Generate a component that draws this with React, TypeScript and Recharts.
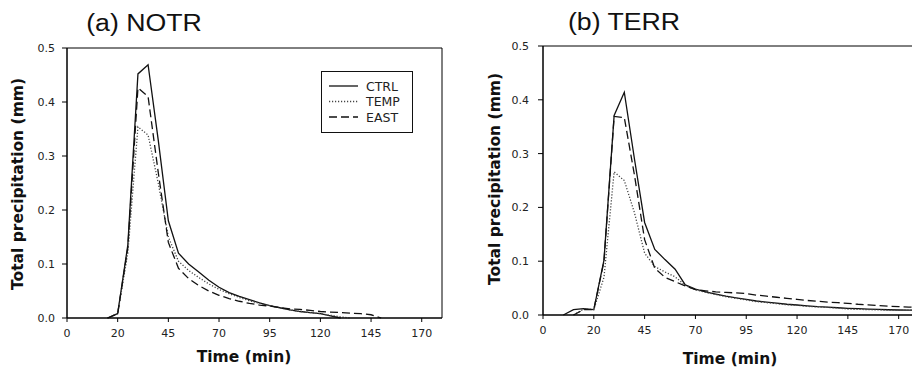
import { LineChart, Line, XAxis, YAxis, ReferenceArea, Legend } from 'recharts'

// time axis (min); the first tick sits at -5 but is labelled "0" in the original figure
const X_TICK_VALUES = [-5, 20, 45, 70, 95, 120, 145, 170]
const X_TICK_LABELS = ['0', '20', '45', '70', '95', '120', '145', '170']
const Y_TICKS = [0, 0.1, 0.2, 0.3, 0.4, 0.5]

// (a) NOTR
const TIME_A = [15, 20, 25, 30, 35, 40, 45, 50, 55, 60, 65, 70, 75, 80, 85, 90, 95, 100, 105, 110, 115, 120, 125, 130, 135, 140, 145, 150]
const CTRL_A = [0, 0.008, 0.135, 0.452, 0.469, 0.33, 0.18, 0.12, 0.1, 0.085, 0.07, 0.057, 0.047, 0.04, 0.034, 0.028, 0.023, 0.019, 0.015, 0.012, 0.01, 0.008, 0.004, 0, null, null, null, null]
const TEMP_A = [0, 0.008, 0.12, 0.354, 0.339, 0.25, 0.15, 0.105, 0.088, 0.075, 0.063, 0.053, 0.045, 0.038, 0.032, 0.027, 0.023, 0.019, 0.015, 0.012, 0.01, 0.008, 0.005, 0.002, 0, null, null, null]
const EAST_A = [0, 0.008, 0.13, 0.426, 0.41, 0.27, 0.14, 0.092, 0.073, 0.06, 0.05, 0.042, 0.036, 0.031, 0.027, 0.024, 0.022, 0.019, 0.017, 0.016, 0.014, 0.012, 0.011, 0.01, 0.009, 0.008, 0.006, 0]

// (b) TERR
const TIME_B = [5, 10, 15, 20, 25, 30, 35, 40, 45, 50, 55, 60, 65, 70, 75, 80, 85, 90, 95, 100, 105, 110, 115, 120, 125, 130, 135, 140, 145, 150, 155, 160, 165, 170, 175, 180]
const CTRL_B = [0, 0.01, 0.012, 0.01, 0.102, 0.371, 0.414, 0.29, 0.172, 0.122, 0.103, 0.085, 0.056, 0.048, 0.043, 0.039, 0.035, 0.032, 0.029, 0.026, 0.024, 0.022, 0.02, 0.0186, 0.017, 0.0155, 0.0145, 0.0135, 0.0124, 0.0117, 0.011, 0.0103, 0.0098, 0.0093, 0.009, 0.009]
const TEMP_B = [null, 0, 0.011, 0.01, 0.07, 0.266, 0.25, 0.19, 0.115, 0.09, 0.08, 0.071, 0.055, 0.047, 0.042, 0.038, 0.034, 0.031, 0.028, 0.025, 0.023, 0.021, 0.019, 0.018, 0.016, 0.015, 0.014, 0.013, 0.011, 0.0105, 0.01, 0.0095, 0.009, 0.009, 0.0088, 0.0088]
const EAST_B = [null, 0, 0.01, 0.01, 0.1, 0.369, 0.367, 0.26, 0.14, 0.087, 0.07, 0.062, 0.054, 0.047, 0.045, 0.043, 0.042, 0.041, 0.04, 0.037, 0.035, 0.033, 0.031, 0.029, 0.027, 0.0255, 0.024, 0.023, 0.0216, 0.02, 0.019, 0.0175, 0.0165, 0.0155, 0.0148, 0.014]

const SERIES = [
  { key: 'CTRL', stroke: '#111', dash: undefined, width: 1.3 },
  { key: 'TEMP', stroke: '#444', dash: '1.2 1.8', width: 1.3 },
  { key: 'EAST', stroke: '#111', dash: '8 4', width: 1.3 },
]

const rows = (t: number[], c: (number | null)[], p: (number | null)[], e: (number | null)[]) =>
  t.map((v, i) => ({ t: v, CTRL: c[i], TEMP: p[i], EAST: e[i] }))

const dataA = rows(TIME_A, CTRL_A, TEMP_A, EAST_A)
const dataB = rows(TIME_B, CTRL_B, TEMP_B, EAST_B)

const tickStyle = { fontSize: 11, fontFamily: 'DejaVu Sans', fill: '#222' }
const axisTitle = { fontFamily: 'DejaVu Sans', fontWeight: 700, fontSize: 15.5, color: '#111', whiteSpace: 'nowrap' as const, lineHeight: 1 }
const panelTitle = { fontFamily: 'Liberation Sans', fontSize: 23, color: '#111', whiteSpace: 'nowrap' as const, lineHeight: 1 }

function LegendBox() {
  return (
    <svg width={92} height={62}>
      <rect x={0.5} y={0.5} width={91} height={61} fill="#fff" stroke="#111" />
      {SERIES.map((s, i) => (
        <g key={s.key}>
          <line x1={8} x2={37} y1={15 + i * 15.5} y2={15 + i * 15.5} stroke={s.stroke} strokeWidth={s.width} strokeDasharray={s.dash} />
          <text x={45} y={19.5 + i * 15.5} fontSize={12.5} fontFamily="DejaVu Sans" fill="#222">{s.key}</text>
        </g>
      ))}
    </svg>
  )
}

function Panel({ data, width, margin, yWidth, tickMargin, legend }: any) {
  return (
    <LineChart width={width} height={373} data={data} margin={margin}>
      <XAxis
        dataKey="t"
        type="number"
        domain={[-5, 180]}
        allowDataOverflow
        ticks={X_TICK_VALUES}
        tickFormatter={(v: number) => X_TICK_LABELS[X_TICK_VALUES.indexOf(v)]}
        tick={tickStyle}
        tickSize={4}
        tickMargin={7}
        height={30}
        stroke="#000"
      />
      <YAxis
        type="number"
        domain={[0, 0.5]}
        ticks={Y_TICKS}
        tickFormatter={(v: number) => v.toFixed(1)}
        tick={tickStyle}
        tickSize={5}
        tickMargin={tickMargin}
        width={yWidth}
        stroke="#000"
      />
      <ReferenceArea x1={-5} x2={180} y1={0} y2={0.5} fill="none" stroke="#000" strokeWidth={1} />
      {SERIES.map((s) => (
        <Line
          key={s.key}
          dataKey={s.key}
          type="linear"
          stroke={s.stroke}
          strokeWidth={s.width}
          strokeDasharray={s.dash}
          dot={false}
          activeDot={false}
          isAnimationActive={false}
        />
      ))}
      {legend && (
        <Legend
          layout="vertical"
          align="center"
          verticalAlign="middle"
          wrapperStyle={{ left: 321, top: 71, width: 92 }}
          content={() => <LegendBox />}
        />
      )}
    </LineChart>
  )
}

export default function App() {
  return (
    <div style={{ position: 'absolute', left: 0, top: 0, width: 912, height: 373, overflow: 'hidden', background: '#fff' }}>
      <div style={{ position: 'absolute', left: 0, top: 0 }}>
        <Panel data={dataA} width={460} margin={{ top: 48, right: 18, bottom: 25, left: 0 }} yWidth={67} tickMargin={7} legend />
      </div>
      <div style={{ position: 'absolute', left: 460, top: 0 }}>
        <Panel data={dataB} width={480} margin={{ top: 46, right: 21, bottom: 28, left: 0 }} yWidth={83} tickMargin={9} />
      </div>

      <div style={{ ...panelTitle, position: 'absolute', left: 144, top: 23, transform: 'translate(-50%, -50%) scaleX(1.16)' }}>(a) NOTR</div>
      <div style={{ ...panelTitle, position: 'absolute', left: 624, top: 22, transform: 'translate(-50%, -50%) scaleX(1.16)' }}>(b) TERR</div>

      <div style={{ ...axisTitle, position: 'absolute', left: 19, top: 184, transform: 'translate(-50%, -50%) rotate(-90deg)' }}>Total precipitation (mm)</div>
      <div style={{ ...axisTitle, position: 'absolute', left: 496, top: 179, transform: 'translate(-50%, -50%) rotate(-90deg)' }}>Total precipitation (mm)</div>

      <div style={{ ...axisTitle, position: 'absolute', left: 244, top: 358, transform: 'translate(-50%, -50%)' }}>Time (min)</div>
      <div style={{ ...axisTitle, position: 'absolute', left: 730, top: 360, transform: 'translate(-50%, -50%)' }}>Time (min)</div>
    </div>
  )
}
